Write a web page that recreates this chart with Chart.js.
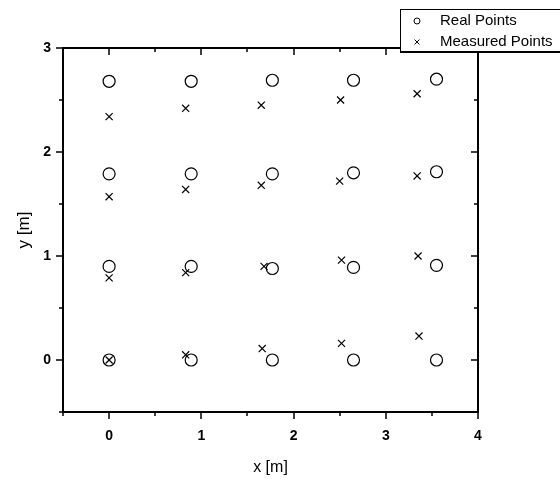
<!DOCTYPE html>
<html>
<head>
<meta charset="utf-8">
<script src="https://cdn.jsdelivr.net/npm/chart.js@4/dist/chart.umd.min.js"></script>
<style>
  html, body { margin: 0; padding: 0; background: #fff; }
  canvas { display: block; }
</style>
</head>
<body>
<canvas id="c" width="560" height="479"></canvas>
<script>
// real grid positions (circles)
const realX = [0, 0.89, 1.77, 2.65, 3.55,
               0, 0.89, 1.77, 2.65, 3.55,
               0, 0.89, 1.77, 2.65, 3.55,
               0, 0.89, 1.77, 2.65, 3.55];
const realY = [0, 0, 0, 0, 0,
               0.90, 0.90, 0.88, 0.89, 0.91,
               1.79, 1.79, 1.79, 1.80, 1.81,
               2.68, 2.68, 2.69, 2.69, 2.70];
// measured positions (crosses)
const measX = [0, 0.83, 1.66, 2.52, 3.36,
               0, 0.83, 1.68, 2.52, 3.35,
               0, 0.83, 1.65, 2.50, 3.34,
               0, 0.83, 1.65, 2.51, 3.34];
const measY = [0, 0.05, 0.11, 0.16, 0.23,
               0.79, 0.84, 0.90, 0.96, 1.00,
               1.57, 1.64, 1.68, 1.72, 1.77,
               2.34, 2.42, 2.45, 2.50, 2.56];

const xMajor = [0, 1, 2, 3, 4];
const xMinor = [-0.5, 0.5, 1.5, 2.5, 3.5];
const yMajor = [0, 1, 2, 3];
const yMinor = [-0.5, 0.5, 1.5, 2.5];

const FONT = 'Liberation Sans, Arial, sans-serif';

const pts = (xs, ys) => xs.map((v, i) => ({ x: v, y: ys[i] }));

// frame, mirrored ticks and the boxed legend
const framePlugin = {
  id: 'frame',
  afterDraw(chart) {
    const { ctx, chartArea: a, scales: { x, y } } = chart;
    ctx.save();
    ctx.strokeStyle = '#000';
    ctx.lineWidth = 2;
    ctx.strokeRect(a.left, a.top, a.right - a.left, a.bottom - a.top);
    ctx.lineWidth = 1.5;
    const tick = (x1, y1, x2, y2) => { ctx.beginPath(); ctx.moveTo(x1, y1); ctx.lineTo(x2, y2); ctx.stroke(); };
    [[xMajor, 7], [xMinor, 4]].forEach(([vals, len]) => vals.forEach(v => {
      const px = Math.round(x.getPixelForValue(v));
      tick(px, a.bottom, px, a.bottom + len);
      tick(px, a.top, px, a.top + len);
    }));
    [[yMajor, 7], [yMinor, 4]].forEach(([vals, len]) => vals.forEach(v => {
      const py = Math.round(y.getPixelForValue(v));
      tick(a.left - len, py, a.left, py);
      tick(a.right - len, py, a.right, py);
    }));

    // legend box
    const bx = 400, by = 9, bw = 170, bh = 42;
    ctx.fillStyle = '#fff';
    ctx.fillRect(bx, by, bw, bh);
    ctx.lineWidth = 1;
    ctx.strokeRect(bx + 0.5, by + 0.5, bw, bh);
    ctx.lineWidth = 2;
    tick(bx, by + bh + 1, bx + bw, by + bh + 1);
    chart.data.datasets.forEach((ds, i) => {
      const ly = by + 12 + i * 21;
      ctx.fillStyle = 'rgba(0,0,0,0)';
      ctx.lineWidth = 1;
      Chart.helpers.drawPoint(ctx, {
        pointStyle: ds.pointStyle, radius: ds.pointStyle === 'circle' ? 3 : 3.5,
        rotation: 0, borderWidth: 1
      }, 417, ly);
      ctx.font = '15px ' + FONT;
      ctx.fillStyle = '#000';
      ctx.textBaseline = 'middle';
      ctx.fillText(ds.label, 440, ly);
    });
    ctx.restore();
  }
};

new Chart(document.getElementById('c'), {
  type: 'scatter',
  data: {
    datasets: [
      {
        label: 'Real Points',
        data: pts(realX, realY),
        pointStyle: 'circle',
        pointRadius: 6,
        borderColor: '#000',
        backgroundColor: 'rgba(0,0,0,0)',
        borderWidth: 1.2
      },
      {
        label: 'Measured Points',
        data: pts(measX, measY),
        pointStyle: 'crossRot',
        pointRadius: 5,
        borderColor: '#000',
        backgroundColor: '#000',
        borderWidth: 1.2
      }
    ]
  },
  options: {
    responsive: false,
    animation: false,
    layout: { padding: { left: 0, top: 48, right: 82, bottom: 0 } },
    plugins: { legend: { display: false }, tooltip: { enabled: false } },
    scales: {
      x: {
        type: 'linear',
        min: -0.5, max: 4,
        afterBuildTicks: s => { s.ticks = xMajor.map(v => ({ value: v })); },
        afterFit: s => { s.height = 67; },
        grid: { display: false },
        border: { display: false },
        ticks: { color: '#000', padding: 8, font: { family: FONT, size: 14, weight: 'bold' } },
        title: { display: true, text: 'x [m]', color: '#000', padding: { top: 0, bottom: 2 }, font: { family: FONT, size: 16 } }
      },
      y: {
        type: 'linear',
        min: -0.5, max: 3,
        afterBuildTicks: s => { s.ticks = yMajor.map(v => ({ value: v })); },
        afterFit: s => { s.width = 63; },
        grid: { display: false },
        border: { display: false },
        ticks: { color: '#000', padding: 4, font: { family: FONT, size: 14, weight: 'bold' } },
        title: { display: true, text: 'y [m]', color: '#000', padding: { top: 14, bottom: 0 }, font: { family: FONT, size: 17 } }
      }
    }
  },
  plugins: [framePlugin]
});
</script>
</body>
</html>
